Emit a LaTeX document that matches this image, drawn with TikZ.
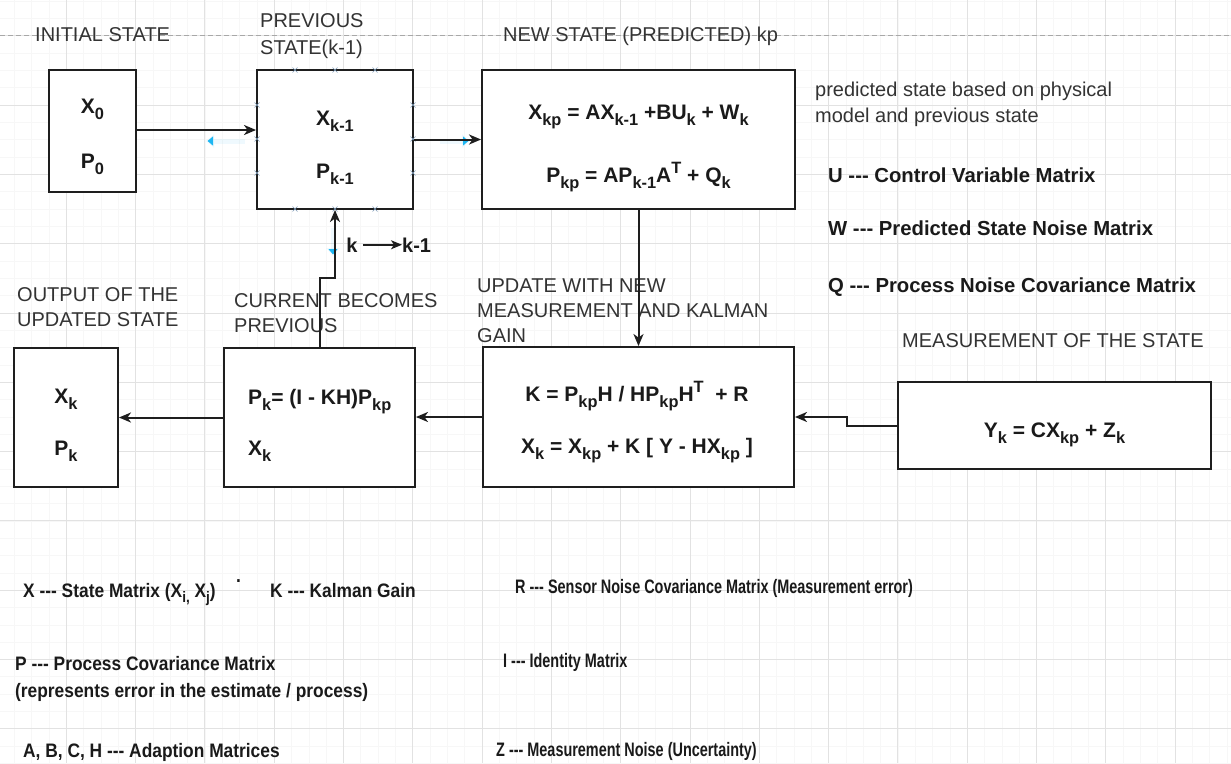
\documentclass[tikz,border=0pt]{standalone}
\usepackage{fontspec}
\usepackage{graphicx}
\setmainfont{Liberation Sans}
\newfontfamily\legLfont[FakeStretch=0.89]{Liberation Sans}
\newfontfamily\legRfont[FakeStretch=0.74]{Liberation Sans}
\usetikzlibrary{arrows.meta}

% sub- and superscripts for the formulas
\newcommand\lo[1]{\raisebox{-0.3em}{\scalebox{0.78}{#1}}}
\newcommand\hi[1]{\raisebox{0.42em}{\scalebox{0.78}{#1}}}
% three separate hyphens, kept apart from the dash ligatures
\newcommand\hy{-{}-{}-}

\definecolor{boxline}{HTML}{1E1E1E}
\definecolor{lbltext}{HTML}{333333}
\definecolor{eqtext}{HTML}{1A1A1A}
\definecolor{gridmajor}{HTML}{E2E2E2}
\definecolor{gridminor}{HTML}{F7F7F7}
\definecolor{pageline}{HTML}{A8A8A8}
\definecolor{handle}{HTML}{7F9CB8}
\definecolor{hoverblue}{RGB}{29,182,242}

\tikzset{
  box/.style={draw=boxline, line width=1.9pt, fill=white, inner sep=0pt},
  lbl/.style={inner sep=0pt, anchor=base west, text=lbltext, font=\fontsize{20}{25}\selectfont},
  eq/.style={inner sep=0pt, anchor=base, text=eqtext, font=\bfseries\fontsize{21}{25}\selectfont},
  eqw/.style={eq, anchor=base west},
  legT/.style={inner sep=0pt, anchor=base west, text=eqtext, font=\bfseries\fontsize{20.3}{25}\selectfont},
  legL/.style={inner sep=0pt, anchor=base west, text=eqtext, font=\legLfont\bfseries\fontsize{19.5}{25}\selectfont},
  legR/.style={inner sep=0pt, anchor=base west, text=eqtext, font=\legRfont\bfseries\fontsize{19.5}{25}\selectfont},
  arr/.style={draw=boxline, line width=2pt, -{Stealth[length=12pt,width=10pt,inset=3.5pt]}},
  hover/.style={draw=hoverblue, draw opacity=0.07, line width=5pt,
                -{Triangle[length=8pt,width=13pt]}},
  handlemark/.style={draw=handle, line width=0.6pt},
}

\begin{document}
\begin{tikzpicture}[x=1pt,y=-1pt]
\useasboundingbox (0,0) rectangle (1231,763);
\fill[white] (0,0) rectangle (1231,763);

% background grid
\foreach \i in {0,...,71} {
  \draw[gridminor, line width=0.5pt] ({-3.1+17.325*\i},0) -- ({-3.1+17.325*\i},763);
}
\foreach \i in {0,...,44} {
  \draw[gridminor, line width=0.5pt] (0,{1.05+17.325*\i}) -- (1231,{1.05+17.325*\i});
}
\foreach \i in {0,...,17} {
  \draw[gridmajor, line width=0.8pt] ({66.2+69.3*\i},0) -- ({66.2+69.3*\i},763);
}
\foreach \i in {0,...,10} {
  \draw[gridmajor, line width=0.8pt] (0,{35.7+69.3*\i}) -- (1231,{35.7+69.3*\i});
}
% page break line
\draw[pageline, line width=0.9pt, dash pattern=on 5pt off 3pt] (0,35) -- (1231,35);

% boxes
\node[box, minimum width=87pt,  minimum height=122pt] (init) at (92.5,131) {};
\node[box, minimum width=156pt, minimum height=139pt] (prev) at (335,139.5) {};
\node[box, minimum width=313pt, minimum height=139pt] (newst) at (638.5,139.5) {};
\node[box, minimum width=104pt, minimum height=139pt] (out) at (66,417.5) {};
\node[box, minimum width=191pt, minimum height=139pt] (cur) at (319.5,417.5) {};
\node[box, minimum width=311pt, minimum height=140pt] (upd) at (638.5,417) {};
\node[box, minimum width=313pt, minimum height=87pt]  (meas) at (1054.5,425.5) {};

% connection handles on the selected box
\foreach \px in {295,335,375} {
  \draw[handlemark] (\px-2.5,70-2.5) -- (\px+2.5,70+2.5) (\px-2.5,70+2.5) -- (\px+2.5,70-2.5);
  \draw[handlemark] (\px-2.5,209-2.5) -- (\px+2.5,209+2.5) (\px-2.5,209+2.5) -- (\px+2.5,209-2.5);
}
\foreach \py in {105,139,173} {
  \draw[handlemark] (257-2.5,\py-2.5) -- (257+2.5,\py+2.5) (257-2.5,\py+2.5) -- (257+2.5,\py-2.5);
  \draw[handlemark] (413-2.5,\py-2.5) -- (413+2.5,\py+2.5) (413-2.5,\py+2.5) -- (413+2.5,\py-2.5);
}
% hover arrows around the selected box
\draw[hover] (245,141) -- (206,141);
\draw[hover] (440,141) -- (470,141);
\draw[hover] (333,228) -- (333,256);

% section titles
\node[lbl] (tInit) at (35,41) {INITIAL STATE};
\node[lbl] (tPrev1) at (260,27) {PREVIOUS};
\node[lbl] (tPrev2) at (260,54) {STATE(k-1)};
\node[lbl] (tNew) at (503,41) {NEW STATE (PREDICTED) kp};
\node[lbl] (tNote1) at (815,96) {predicted state based on physical};
\node[lbl] (tNote2) at (815,122) {model and previous state};
\node[lbl] (tOut1) at (17,301) {OUTPUT OF THE};
\node[lbl] (tOut2) at (17,326) {UPDATED STATE};
\node[lbl] (tCur1) at (234,307) {CURRENT BECOMES};
\node[lbl] (tCur2) at (234,332) {PREVIOUS};
\node[lbl] (tUpd1) at (477,292) {UPDATE WITH NEW};
\node[lbl] (tUpd2) at (477,317) {MEASUREMENT AND KALMAN};
\node[lbl] (tUpd3) at (477,342) {GAIN};
\node[lbl] (tMeas) at (902,347) {MEASUREMENT OF THE STATE};

% box contents
\node[eq] (x0) at (92.5,113) {X\lo{0}};
\node[eq] (p0) at (92.5,168) {P\lo{0}};
\node[eq] (xkm) at (335,125) {X\lo{k-1}};
\node[eq] (pkm) at (335,178) {P\lo{k-1}};
\node[eq] (xkp) at (638.5,119) {X\lo{kp} = AX\lo{k-1} +BU\lo{k} + W\lo{k}};
\node[eq] (pkp) at (638.5,182) {P\lo{kp} = AP\lo{k-1}A\hi{T} + Q\lo{k}};
\node[eq] (kgain) at (637,401) {K = P\lo{kp}H / HP\lo{kp}H\hi{T} \ + R};
\node[eq] (xk) at (637,453) {X\lo{k} = X\lo{kp} + K [ Y - HX\lo{kp} ]};
\node[eqw] (pk) at (248,404) {P\lo{k}= (I - KH)P\lo{kp}};
\node[eqw] (xkc) at (248,455) {X\lo{k}};
\node[eq] (xout) at (66,403) {X\lo{k}};
\node[eq] (pout) at (66,455) {P\lo{k}};
\node[eq] (yk) at (1054.5,437) {Y\lo{k} = CX\lo{kp} + Z\lo{k}};

% legend, upper right
\node[legT] (lU) at (828,182) {U \hy{} Control Variable Matrix};
\node[legT] (lW) at (828,235) {W \hy{} Predicted State Noise Matrix};
\node[legT] (lQ) at (828,292) {Q \hy{} Process Noise Covariance Matrix};

% legend, bottom
\node[legL] (lX) at (23,597) {X \hy{} State Matrix (X\lo{i,} X\lo{j})};
\node[legL] (lK) at (270,597) {K \hy{} Kalman Gain};
\node[legR] (lR) at (515,593) {R \hy{} Sensor Noise Covariance Matrix (Measurement error)};
\node[legL] (lP1) at (15,670) {P \hy{} Process Covariance Matrix};
\node[legL] (lP2) at (15,697) {(represents error in the estimate / process)};
\node[legR] (lI) at (503,667) {I \hy{} Identity Matrix};
\node[legL] (lA) at (23,757) {A, B, C, H \hy{} Adaption Matrices};
\node[legR] (lZ) at (496,756) {Z \hy{} Measurement Noise (Uncertainty)};
\node[legL] (dot) at (236,582) {.};

% index shift note
\node[inner sep=0pt, anchor=base, text=eqtext, font=\bfseries\fontsize{20}{24}\selectfont] (kold) at (352,252) {k};
\node[inner sep=0pt, anchor=base west, text=eqtext, font=\bfseries\fontsize{20}{24}\selectfont] (knew) at (402,252) {k-1};
\draw[draw=boxline, line width=1.6pt, -{Stealth[length=11pt,width=9pt,inset=3pt]}]
  (kold.east) ++(5,0) coordinate (ka) (ka) -- (knew.west);

% connectors
\coordinate (m1) at (847,425.5);
\coordinate (m2) at (847,417);
\coordinate (j1) at (319.5,278);
\coordinate (j2) at (335,278);
\draw[arr] (init.east |- 0,130) -- (prev.west |- 0,130);
\draw[arr] (prev.east) -- (newst.west);
\draw[arr] (newst.south) -- (upd.north);
\draw[arr] (meas.west) -- (m1) -- (m2) -- (upd.east |- m2);
\draw[arr] (upd.west) -- (cur.east |- upd.west);
\draw[arr] (cur.west) -- (out.east);
\draw[arr] (cur.north) -- (j1) -- (j2) -- (prev.south);
\end{tikzpicture}
\end{document}
